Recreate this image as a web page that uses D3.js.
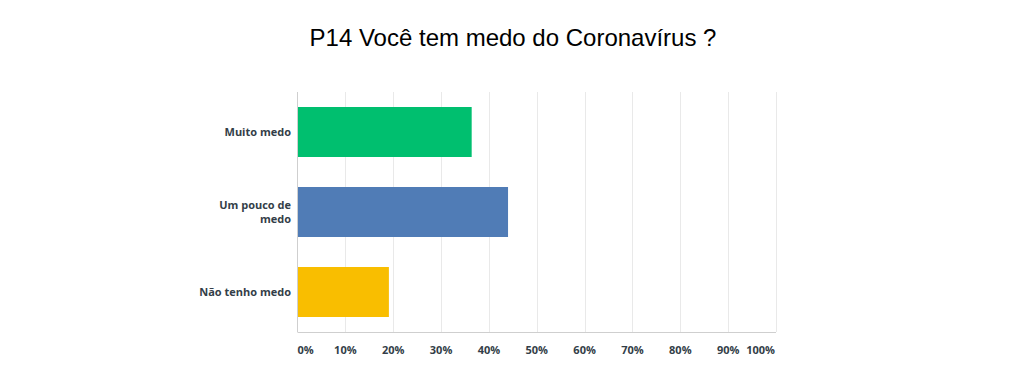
<!DOCTYPE html>
<html><head><meta charset="utf-8">
<script src="https://cdn.jsdelivr.net/npm/d3@7"></script>
<style>body{margin:0;background:#fff;}svg{display:block;}</style>
</head><body>
<svg id="c" width="1024" height="385"></svg>
<script>
const categories = ["Muito medo", "Um pouco de medo", "Não tenho medo"];
const labelLines = [["Muito medo"], ["Um pouco de", "medo"], ["Não tenho medo"]];
const values = [36.4, 44.0, 19.1];
const colors = ["#00bf6f", "#507cb6", "#f9be00"];
const ticks = [0,10,20,30,40,50,60,70,80,90,100];
const title = "P14 Você tem medo do Coronavírus ?";

const svg = d3.select("#c");
const L = 297.5, R = 776, T = 92, B = 332;
const x = d3.scaleLinear().domain([0,100]).range([L,R]);
const y = d3.scaleBand().domain(categories).range([T,B]).paddingInner(0.375).paddingOuter(0.1875);

svg.append("text").attr("x",513).attr("y",46).attr("text-anchor","middle")
  .attr("font-family","'Liberation Sans', Arial, sans-serif").attr("font-size",24).attr("fill","#000").text(title);

// grid
svg.append("g").selectAll("line").data(ticks.slice(1)).join("line")
  .attr("x1",d=>Math.round(x(d))+0.5).attr("x2",d=>Math.round(x(d))+0.5)
  .attr("y1",T).attr("y2",B).attr("stroke","#e9e9e9").attr("stroke-width",1);

// bars
svg.append("g").selectAll("rect").data(categories).join("rect")
  .attr("x",L).attr("y",d=>y(d)).attr("width",(d,i)=>x(values[i])-L).attr("height",y.bandwidth())
  .attr("fill",(d,i)=>colors[i]);

// axes lines
svg.append("line").attr("x1",L).attr("x2",L).attr("y1",T).attr("y2",B).attr("stroke","#cfcfcf");
svg.append("line").attr("x1",L).attr("x2",R).attr("y1",B+0.5).attr("y2",B+0.5).attr("stroke","#cfcfcf");

const font = "'Open Sans', Lato, sans-serif";
// x tick labels
svg.append("g").selectAll("text").data(ticks).join("text")
  .attr("x",(d,i)=> i===0 ? L : (i===ticks.length-1 ? R-1 : x(d)))
  .attr("y",354)
  .attr("text-anchor",(d,i)=> i===0 ? "start" : (i===ticks.length-1 ? "end" : "middle"))
  .attr("font-family",font).attr("font-weight",700).attr("font-size",11).attr("fill","#333e48")
  .text(d=>d+"%");

// y labels
const yl = svg.append("g").selectAll("text").data(categories).join("text")
  .attr("text-anchor","end").attr("font-family",font).attr("font-weight",700).attr("font-size",11).attr("fill","#333e48");
yl.each(function(d,i){
  const lines = labelLines[i];
  const cy = y(d)+y.bandwidth()/2;
  const lh = 14;
  const start = cy - (lines.length-1)*lh/2 + 4;
  d3.select(this).selectAll("tspan").data(lines).join("tspan")
    .attr("x",291).attr("y",(l,j)=>start+j*lh).text(l=>l);
});
</script>
</body></html>
